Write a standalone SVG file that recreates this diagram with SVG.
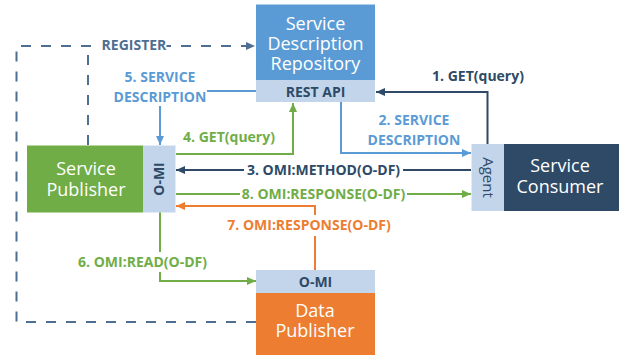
<svg xmlns="http://www.w3.org/2000/svg" width="621" height="358" viewBox="0 0 621 358">
<defs>
<style>
.t{font-family:"Open Sans","Noto Sans",sans-serif;font-size:18px;fill:#ffffff;text-anchor:middle}
.b{font-family:"Open Sans","Noto Sans",sans-serif;font-size:14px;font-weight:bold;text-anchor:middle}
.strip{fill:#C3D5EB}
.ln{fill:none;stroke-width:2}
.navy{stroke:#2E4A66}.navyT{fill:#2E4A66}
.blue{stroke:#5B9BD5}.blueT{fill:#5B9BD5}
.green{stroke:#70AD47}.greenT{fill:#70AD47}
.orange{stroke:#ED7D31}.orangeT{fill:#ED7D31}
.dash{fill:none;stroke:#4E6F91;stroke-width:2;stroke-dasharray:10 10}
.bg{fill:#ffffff}
</style>
<marker id="aNavy" markerUnits="userSpaceOnUse" markerWidth="10" markerHeight="10" refX="9" refY="5" orient="auto"><path d="M0,1 L9,5 L0,9 Z" fill="#2E4A66"/></marker>
<marker id="aBlue" markerUnits="userSpaceOnUse" markerWidth="10" markerHeight="10" refX="9" refY="5" orient="auto"><path d="M0,1 L9,5 L0,9 Z" fill="#5B9BD5"/></marker>
<marker id="aGreen" markerUnits="userSpaceOnUse" markerWidth="10" markerHeight="10" refX="9" refY="5" orient="auto"><path d="M0,1 L9,5 L0,9 Z" fill="#70AD47"/></marker>
<marker id="aOrange" markerUnits="userSpaceOnUse" markerWidth="10" markerHeight="10" refX="9" refY="5" orient="auto"><path d="M0,1 L9,5 L0,9 Z" fill="#ED7D31"/></marker>
<marker id="aSlate" markerUnits="userSpaceOnUse" markerWidth="10" markerHeight="10" refX="9" refY="5" orient="auto"><path d="M0,1 L9,5 L0,9 Z" fill="#4E6F91"/></marker>
</defs>
<rect width="621" height="358" fill="#ffffff"/>

<g id="connectors">
  <path class="dash" d="M256,322 H16.5 V46 H255" marker-end="url(#aSlate)"/>
  <path class="dash" d="M88,145 V46"/>
  <rect class="bg" x="100.5" y="36" width="66" height="18"/>
  <text class="b" x="134" y="50" style="fill:#4E6F91">REGISTER</text>

  <path class="ln navy" d="M487.5,144 V92 H376" marker-end="url(#aNavy)"/>
  <text class="b navyT" x="478" y="81">1. GET(query)</text>

  <path class="ln blue" d="M341,102 V153 H471" marker-end="url(#aBlue)"/>
  <text class="b blueT" x="414" y="125">2. SERVICE<tspan x="414" dy="20">DESCRIPTION</tspan></text>

  <path class="ln navy" d="M471,170 H176" marker-end="url(#aNavy)"/>
  <rect class="bg" x="244" y="160" width="159" height="20"/>
  <text class="b navyT" x="323.5" y="175">3. OMI:METHOD(O-DF)</text>

  <path class="ln green" d="M176,154 H293 V103" marker-end="url(#aGreen)"/>
  <text class="b greenT" x="229" y="141.5">4. GET(query)</text>

  <path class="ln blue" d="M256,91 H160 V145" marker-end="url(#aBlue)"/>
  <rect class="bg" x="113" y="68" width="94" height="38"/>
  <text class="b blueT" x="160" y="82">5. SERVICE<tspan x="160" dy="19.5">DESCRIPTION</tspan></text>

  <path class="ln green" d="M160,212 V281 H256" marker-end="url(#aGreen)"/>
  <rect class="bg" x="75" y="252" width="136" height="20"/>
  <text class="b greenT" x="142.5" y="267">6. OMI:READ(O-DF)</text>

  <path class="ln orange" d="M315,270 V206 H176" marker-end="url(#aOrange)"/>
  <rect class="bg" x="225" y="215" width="168" height="21"/>
  <text class="b orangeT" x="309" y="230">7. OMI:RESPONSE(O-DF)</text>

  <path class="ln green" d="M176,194 H471" marker-end="url(#aGreen)"/>
  <rect class="bg" x="240" y="184" width="167" height="20"/>
  <text class="b greenT" x="323.5" y="198.5">8. OMI:RESPONSE(O-DF)</text>
</g>

<g id="repository">
  <rect x="256" y="4.5" width="119" height="75.5" fill="#5B9BD5"/>
  <rect class="strip" x="256" y="80" width="119" height="22"/>
  <text class="t" x="315.5" y="29.5">Service<tspan x="315.5" dy="20">Description</tspan><tspan x="315.5" dy="20">Repository</tspan></text>
  <text class="b navyT" x="315.5" y="97">REST API</text>
</g>

<g id="service-publisher">
  <rect x="27" y="145.5" width="116" height="67" fill="#70AD47"/>
  <rect class="strip" x="143" y="145.5" width="32.5" height="67"/>
  <text class="t" x="86" y="175">Service<tspan x="86" dy="21">Publisher</tspan></text>
  <text class="b navyT" transform="translate(164,179) rotate(-90)">O-MI</text>
</g>

<g id="service-consumer">
  <rect x="504" y="144" width="115" height="67" fill="#2E4A66"/>
  <rect class="strip" x="471.5" y="144" width="32.5" height="67"/>
  <text class="t" x="560" y="171.5">Service<tspan x="560" dy="21.5">Consumer</tspan></text>
  <text transform="translate(483,177.5) rotate(90)" style="font-family:'Open Sans','Noto Sans',sans-serif;font-size:15px;fill:#2E4A66;text-anchor:middle">Agent</text>
</g>

<g id="data-publisher">
  <rect class="strip" x="256" y="270" width="119" height="23"/>
  <rect x="256" y="293" width="119" height="62" fill="#ED7D31"/>
  <text class="b navyT" x="315.5" y="287">O-MI</text>
  <text class="t" x="315" y="316.5">Data<tspan x="315" dy="20">Publisher</tspan></text>
</g>
</svg>
